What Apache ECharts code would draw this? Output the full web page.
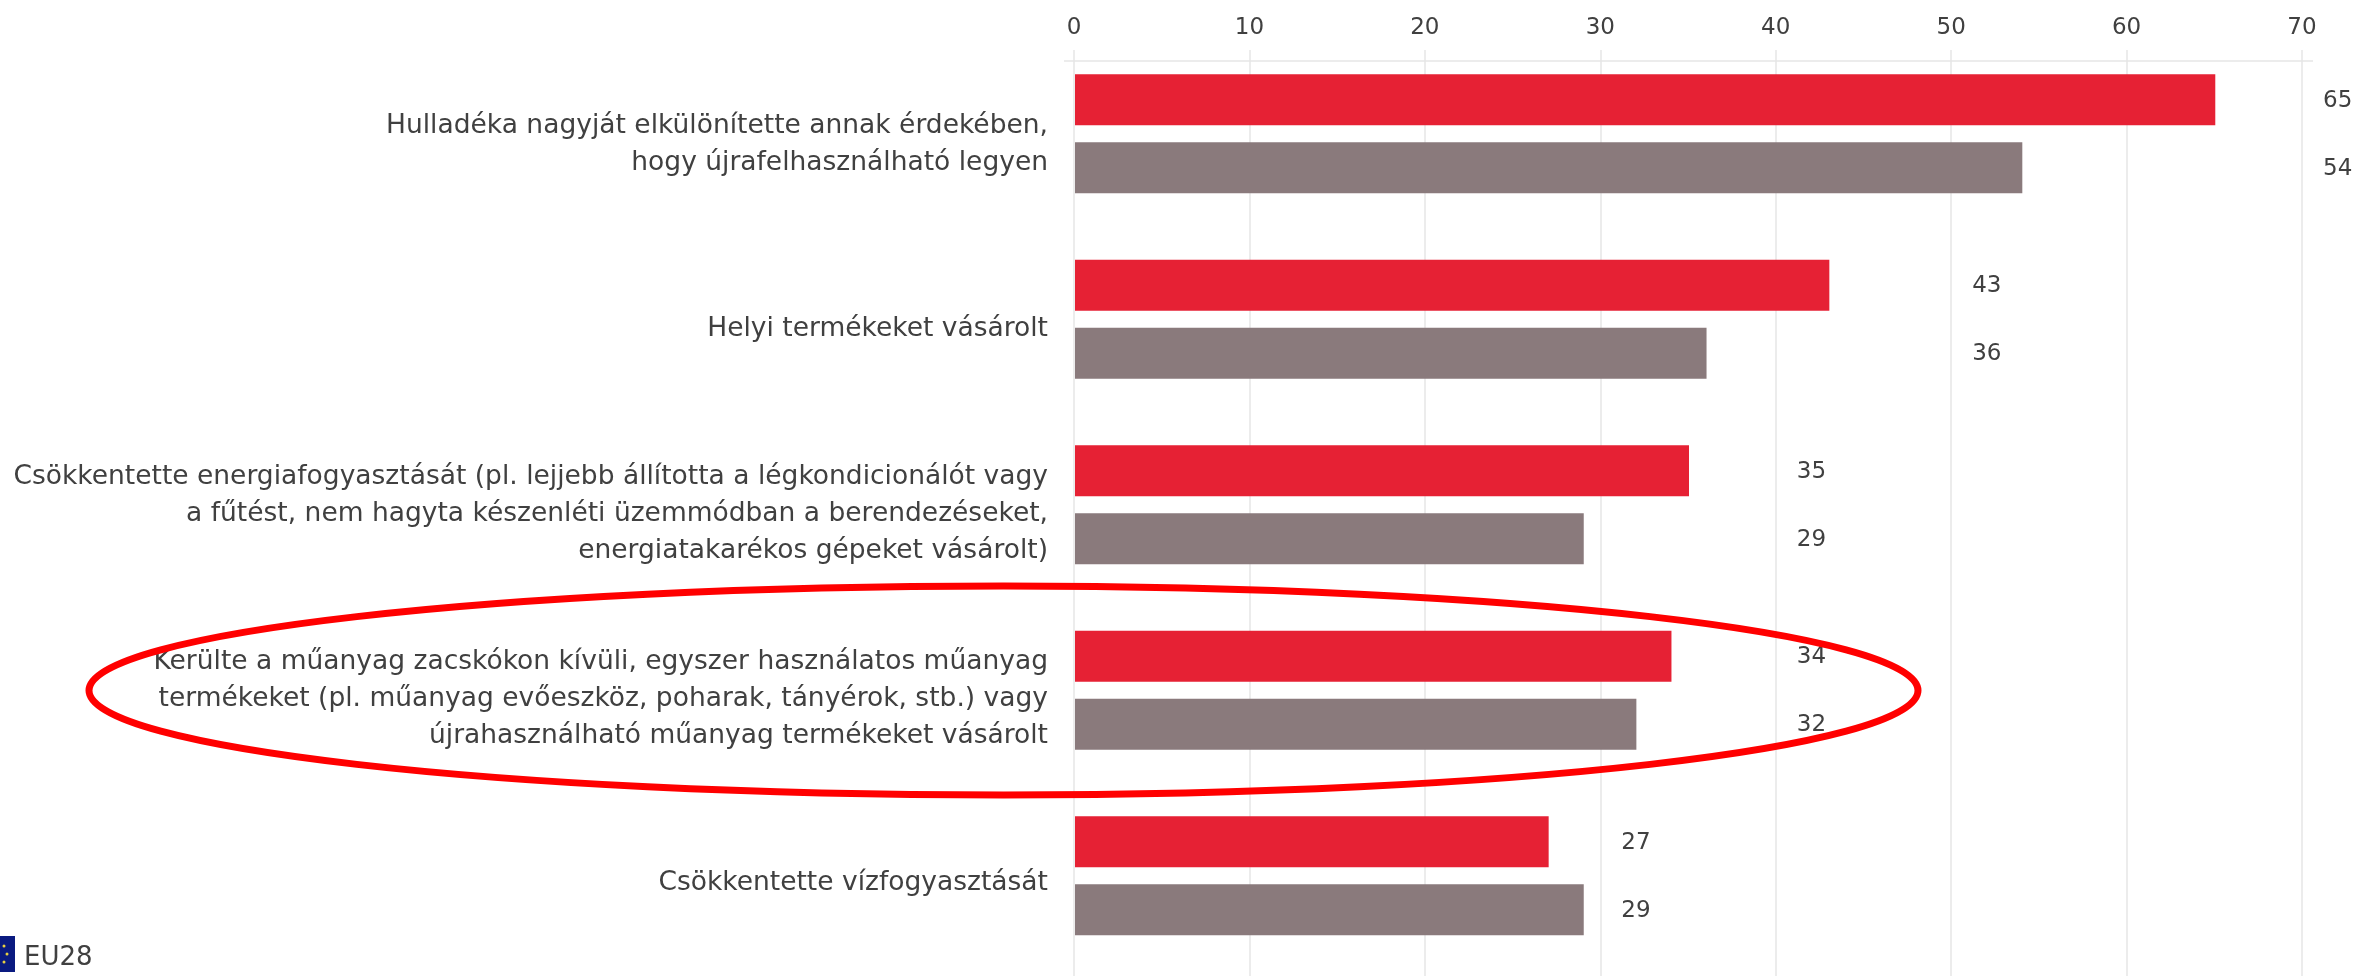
<!DOCTYPE html>
<html><head><meta charset="utf-8">
<style>html,body{margin:0;padding:0;background:#fff}#c{width:2358px;height:976px}</style>
<script src="https://cdn.jsdelivr.net/npm/echarts@6/dist/echarts.min.js"></script>
</head><body><div id="c"></div>
<script>
const categories = [
  "Hulladéka nagyját elkülönítette annak érdekében,\nhogy újrafelhasználható legyen",
  "Helyi termékeket vásárolt",
  "Csökkentette energiafogyasztását (pl. lejjebb állította a légkondicionálót vagy\na fűtést, nem hagyta készenléti üzemmódban a berendezéseket,\nenergiatakarékos gépeket vásárolt)",
  "Kerülte a műanyag zacskókon kívüli, egyszer használatos műanyag\ntermékeket (pl. műanyag evőeszköz, poharak, tányérok, stb.) vagy\nújrahasználható műanyag termékeket vásárolt",
  "Csökkentette vízfogyasztását"
];
const seriesA = [65, 43, 35, 34, 27];
const seriesB = [54, 36, 29, 32, 29];
const labelColumn = [71.2, 51.2, 41.2, 41.2, 31.2];
const xMin = 0, xMax = 70, xStep = 10;
const RED = '#e62134', GREY = '#8a7a7c', TXT = '#404040';
const FONT = '"DejaVu Sans"';
const plotW = 1228, pxPerUnit = plotW / (xMax - xMin);

const withLabel = vals => vals.map((v, i) => ({
  value: v,
  label: { offset: [(labelColumn[i] - v) * pxPerUnit - 1, 1] }
}));
const barLabel = { show: true, position: 'right', distance: 0, color: TXT, fontFamily: FONT, fontSize: 23 };

const chart = echarts.init(document.getElementById('c'), null, { renderer: 'canvas' });
chart.setOption({
  animation: false,
  backgroundColor: '#fff',
  grid: [
    { left: 1075, width: plotW, top: 41, height: 927.5 },
    { left: 1074, width: plotW, top: 50, bottom: 0 },
    { left: 1074, width: plotW, top: 52, height: 927.5 }
  ],
  xAxis: [
    { gridIndex: 0, type: 'value', min: xMin, max: xMax, interval: xStep, show: false },
    { gridIndex: 1, type: 'value', position: 'top', min: xMin, max: xMax, interval: xStep,
      axisLine: { show: false }, axisTick: { show: false },
      splitLine: { show: true, lineStyle: { color: '#e6e6e6', width: 1.5 } },
      axisLabel: { margin: 10, color: TXT, fontFamily: FONT, fontSize: 23 } },
    { gridIndex: 2, type: 'value', min: xMin, max: xMax, interval: xStep, show: false }
  ],
  yAxis: [
    { gridIndex: 0, type: 'category', data: categories, inverse: true,
      axisLine: { show: false }, axisTick: { show: false }, axisLabel: { show: false }, splitLine: { show: false } },
    { gridIndex: 1, type: 'category', data: categories, inverse: true, show: false },
    { gridIndex: 2, type: 'category', data: categories, inverse: true,
      axisLine: { show: false }, axisTick: { show: false }, splitLine: { show: false },
      axisLabel: { margin: 26, color: TXT, fontFamily: FONT, fontSize: 26.5, lineHeight: 37, align: 'right' } }
  ],
  series: [
    { name: 'A', type: 'bar', xAxisIndex: 0, yAxisIndex: 0, barWidth: 51, barGap: '33.3%', z: 3,
      itemStyle: { color: RED }, label: barLabel, data: withLabel(seriesA) },
    { name: 'B', type: 'bar', xAxisIndex: 0, yAxisIndex: 0, barWidth: 51, barGap: '33.3%', z: 3,
      itemStyle: { color: GREY }, label: barLabel, data: withLabel(seriesB) }
  ],
  graphic: [
    { type: 'line', z: 1, shape: { x1: 1064, y1: 61, x2: 2313, y2: 61 }, style: { stroke: '#e6e6e6', lineWidth: 1.5 } },
    { type: 'ellipse', z: 10, shape: { cx: 1003.5, cy: 690.5, rx: 914.5, ry: 104.5 }, style: { fill: null, stroke: '#ff0000', lineWidth: 7 } },
    { type: 'rect', z: 5, shape: { x: 0, y: 936, width: 15, height: 36 }, style: { fill: '#0a1a80' } },
    { type: 'circle', z: 6, shape: { cx: 4, cy: 946, r: 1.5 }, style: { fill: '#e8d040' } },
    { type: 'circle', z: 6, shape: { cx: 7, cy: 954, r: 1.5 }, style: { fill: '#e8d040' } },
    { type: 'circle', z: 6, shape: { cx: 4, cy: 962, r: 1.5 }, style: { fill: '#e8d040' } },
    { type: 'text', z: 5, style: { x: 24, y: 958, text: 'EU28', fill: TXT, font: '26px "DejaVu Sans"', textVerticalAlign: 'middle' } }
  ]
});
</script></body></html>
